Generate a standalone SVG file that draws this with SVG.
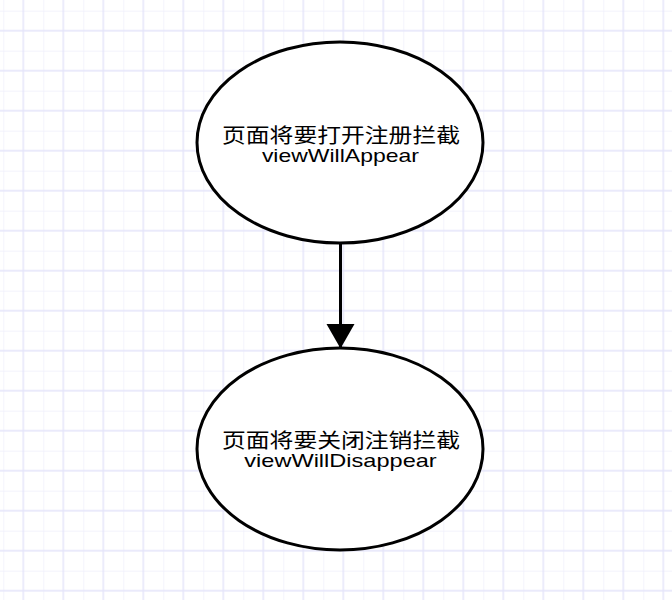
<svg xmlns="http://www.w3.org/2000/svg" width="672" height="600" viewBox="0 0 672 600">
<style>
.node ellipse{fill:#ffffff;stroke:#000000;stroke-width:3}
.cn{font-family:"Liberation Sans","Noto Sans CJK SC",sans-serif;font-size:20px;fill:#000000;text-anchor:middle}
.en{font-family:"Liberation Sans","Noto Sans CJK SC",sans-serif;font-size:19px;fill:#000000;text-anchor:middle}
.edge{stroke:#000000;stroke-width:3;fill:none}
</style>
<defs>
<pattern id="grid" patternUnits="userSpaceOnUse" x="3.3" y="10.7" width="40" height="40">
<rect width="40" height="40" fill="#ffffff"/>
<path d="M0 0V40M0 0H40" stroke="#f0f0fc" stroke-width="1.4" fill="none"/>
<path d="M20 0V40M0 20H40" stroke="#e4e4fa" stroke-width="1.4" fill="none"/>
</pattern>
<marker id="arrow" markerUnits="userSpaceOnUse" markerWidth="30" markerHeight="30" refX="24.5" refY="14" orient="auto">
<path d="M0 0L24.5 14L0 28Z" fill="#000000"/>
</marker>
</defs>
<rect width="672" height="600" fill="url(#grid)"/>
<g id="connectors">
<path class="edge" d="M340.5 243.5V348.5" marker-end="url(#arrow)"/>
</g>
<g id="node1" class="node">
<ellipse cx="340" cy="142.5" rx="143" ry="100.5"/>
<text class="cn" x="341" y="142.5" textLength="238" lengthAdjust="spacingAndGlyphs">页面将要打开注册拦截</text>
<text class="en" x="340.4" y="161.7" textLength="157" lengthAdjust="spacingAndGlyphs">viewWillAppear</text>
</g>
<g id="node2" class="node">
<ellipse cx="340" cy="449" rx="143" ry="101"/>
<text class="cn" x="341" y="448" textLength="238" lengthAdjust="spacingAndGlyphs">页面将要关闭注销拦截</text>
<text class="en" x="340.5" y="467.2" textLength="192.4" lengthAdjust="spacingAndGlyphs">viewWillDisappear</text>
</g>
</svg>
